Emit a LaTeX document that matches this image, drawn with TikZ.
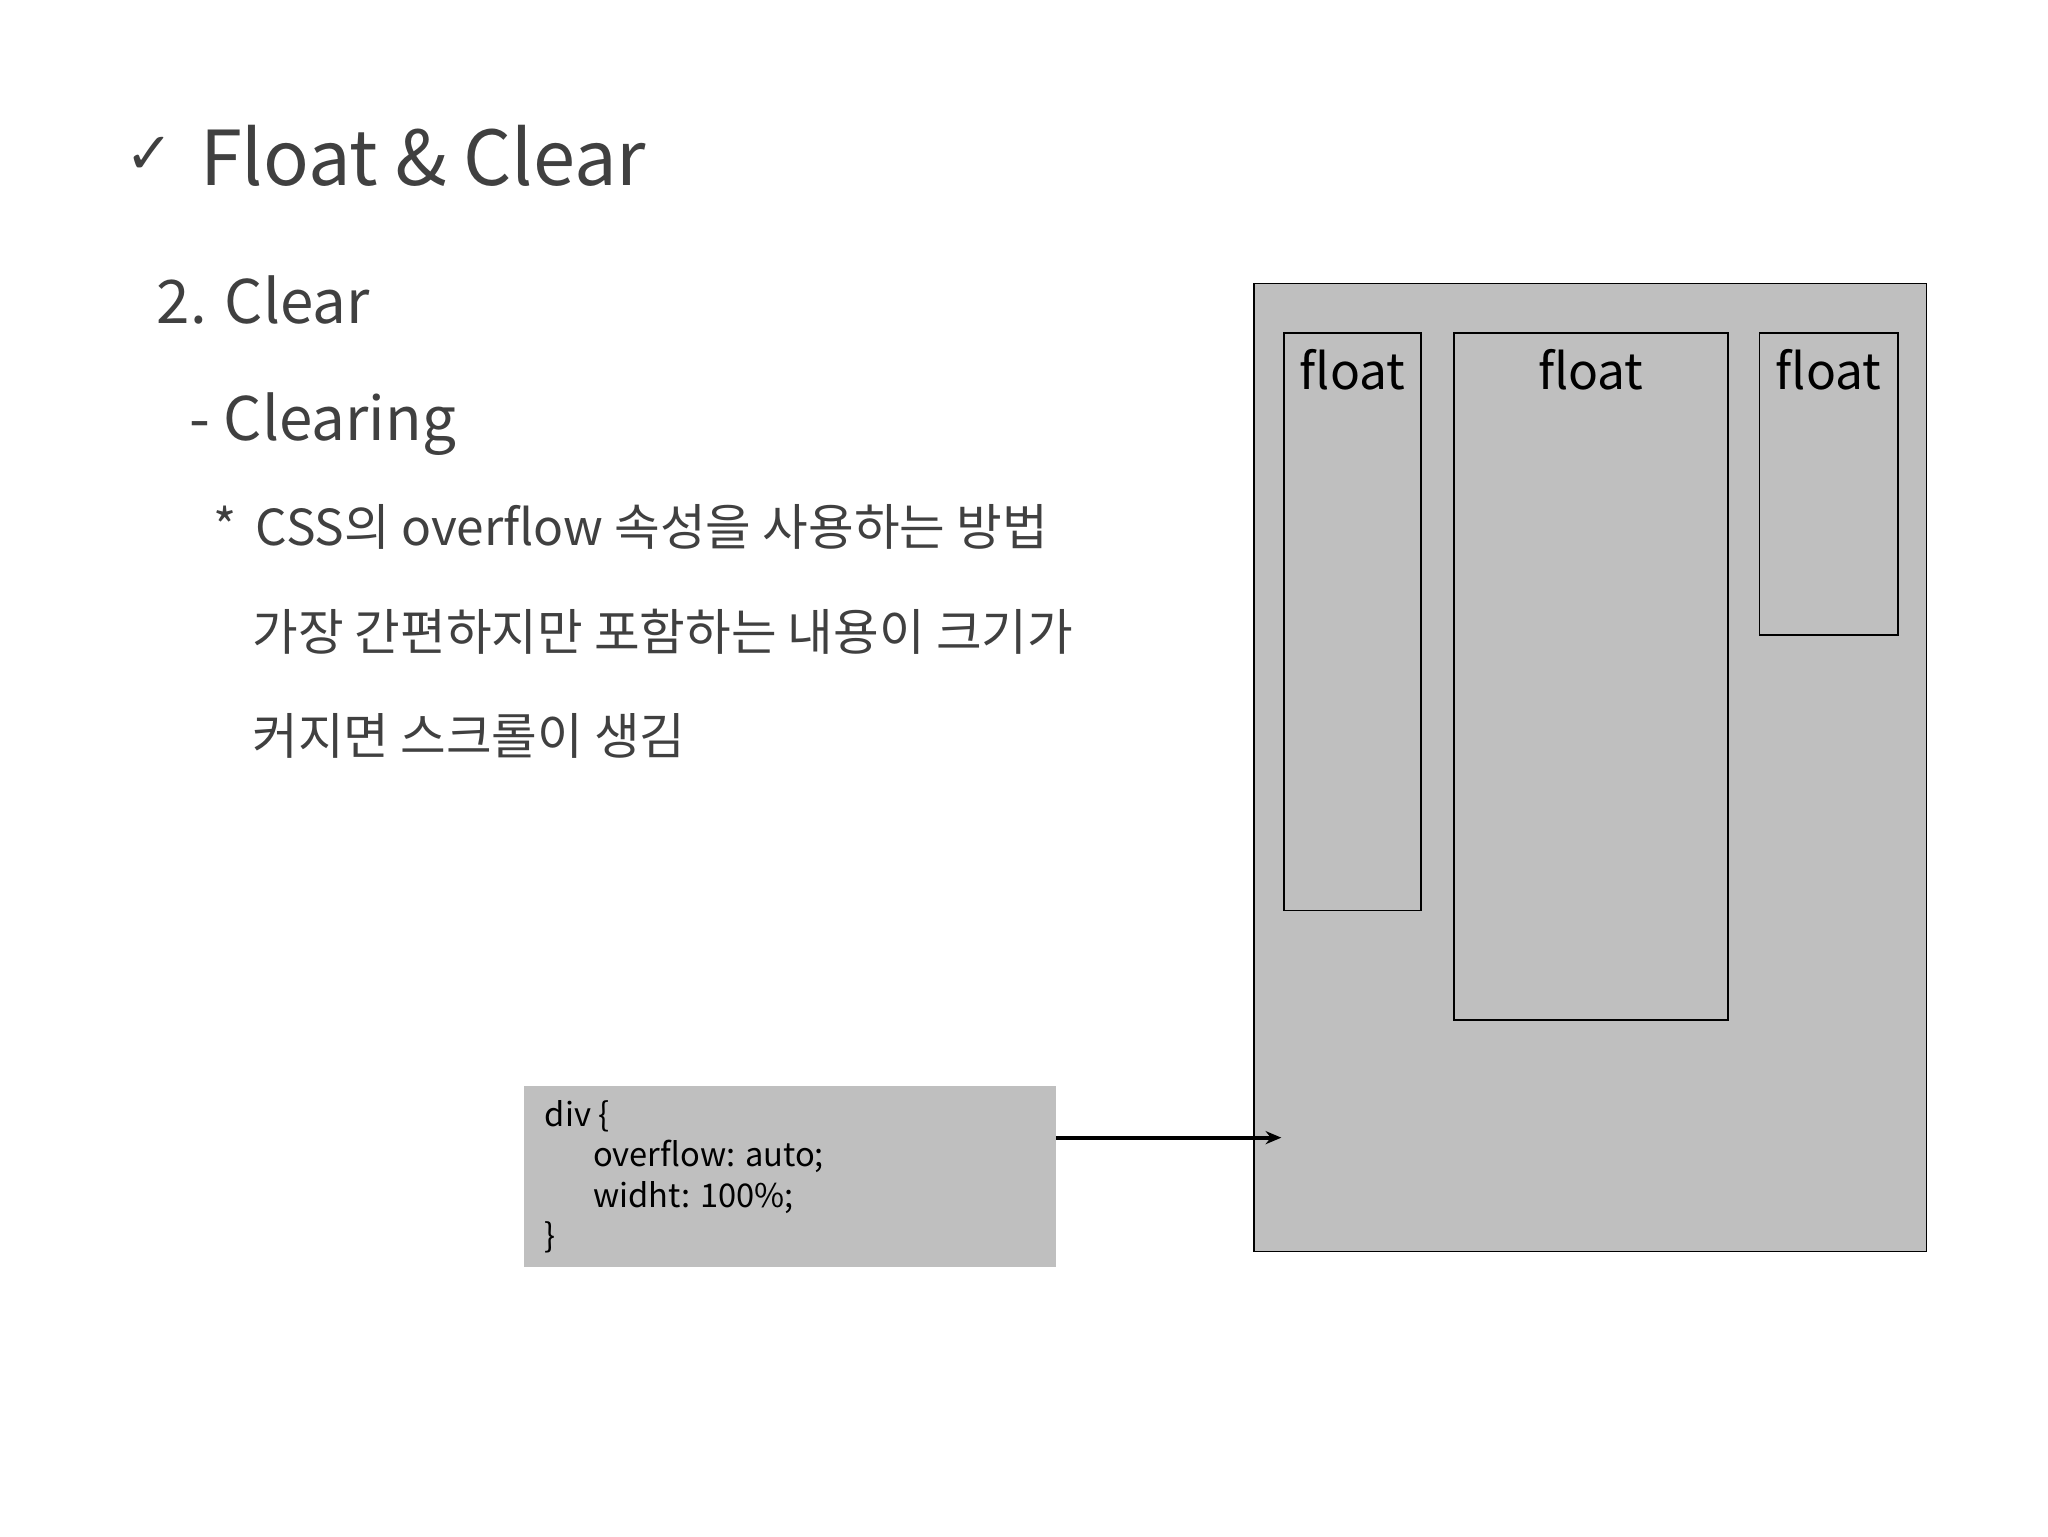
\documentclass[tikz,border=0pt]{standalone}
\usepackage{fontspec}
\setmainfont{Noto Sans CJK KR}
\newfontfamily\symfont{DejaVu Sans}
\usetikzlibrary{arrows.meta}
\definecolor{txt}{HTML}{404040}
\definecolor{boxgray}{HTML}{BFBFBF}
\begin{document}
\begin{tikzpicture}[x=1pt,y=-1pt,
  lbl/.style={anchor=base west,inner sep=0pt,text=txt},
  fbox/.style={draw=black,line width=1.2pt},
  ftxt/.style={anchor=base,inner sep=0pt,font=\fontsize{38}{40}\selectfont,text=black}]
\useasboundingbox (0,0) rectangle (1568,1176);
\node[lbl,font=\symfont\fontsize{44}{46}\selectfont] (chk) at (96,133) {✓};
\node[lbl,font=\fontsize{58}{60}\selectfont] (title) at (153,142) {Float \& Clear};
\node[lbl,font=\fontsize{46}{48}\selectfont] (h2) at (120,248) {2. Clear};
\node[lbl,font=\fontsize{46}{48}\selectfont] (h3) at (145,337) {- Clearing};
\node[lbl,font=\fontsize{38}{40}\selectfont] (b1) at (163,418) {*\, CSS의 overflow 속성을 사용하는 방법};
\node[lbl,font=\fontsize{38}{40}\selectfont] (b2) at (193,498) {가장 간편하지만 포함하는 내용이 크기가};
\node[lbl,font=\fontsize{38}{40}\selectfont] (b3) at (193,578) {커지면 스크롤이 생김};
% container
\draw[fbox,fill=boxgray] (960,217) rectangle (1475,958);
\coordinate (target) at (981,871);
\draw[fbox] (983,255) rectangle (1088,697);
\draw[fbox] (1113,255) rectangle (1323,781);
\draw[fbox] (1347,255) rectangle (1453,486);
\node[ftxt] (f1) at (1035.5,298) {float};
\node[ftxt] (f2) at (1218,298) {float};
\node[ftxt] (f3) at (1400,298) {float};
% code box
\node[fill=boxgray,minimum width=407pt,minimum height=139pt,inner sep=0pt,anchor=north west] (code) at (401,831) {};
\node[anchor=north west,inner sep=0pt,align=left,text=black,font=\fontsize{25}{31}\selectfont] (codetxt) at (417,842)
 {div \{\\\hspace*{37pt}overflow: auto;\\\hspace*{37pt}widht: 100\%;\\\}};
\draw[line width=3pt,-{Stealth[length=12pt,width=10pt]}] (code.east |- target) -- (target);
\end{tikzpicture}
\end{document}
